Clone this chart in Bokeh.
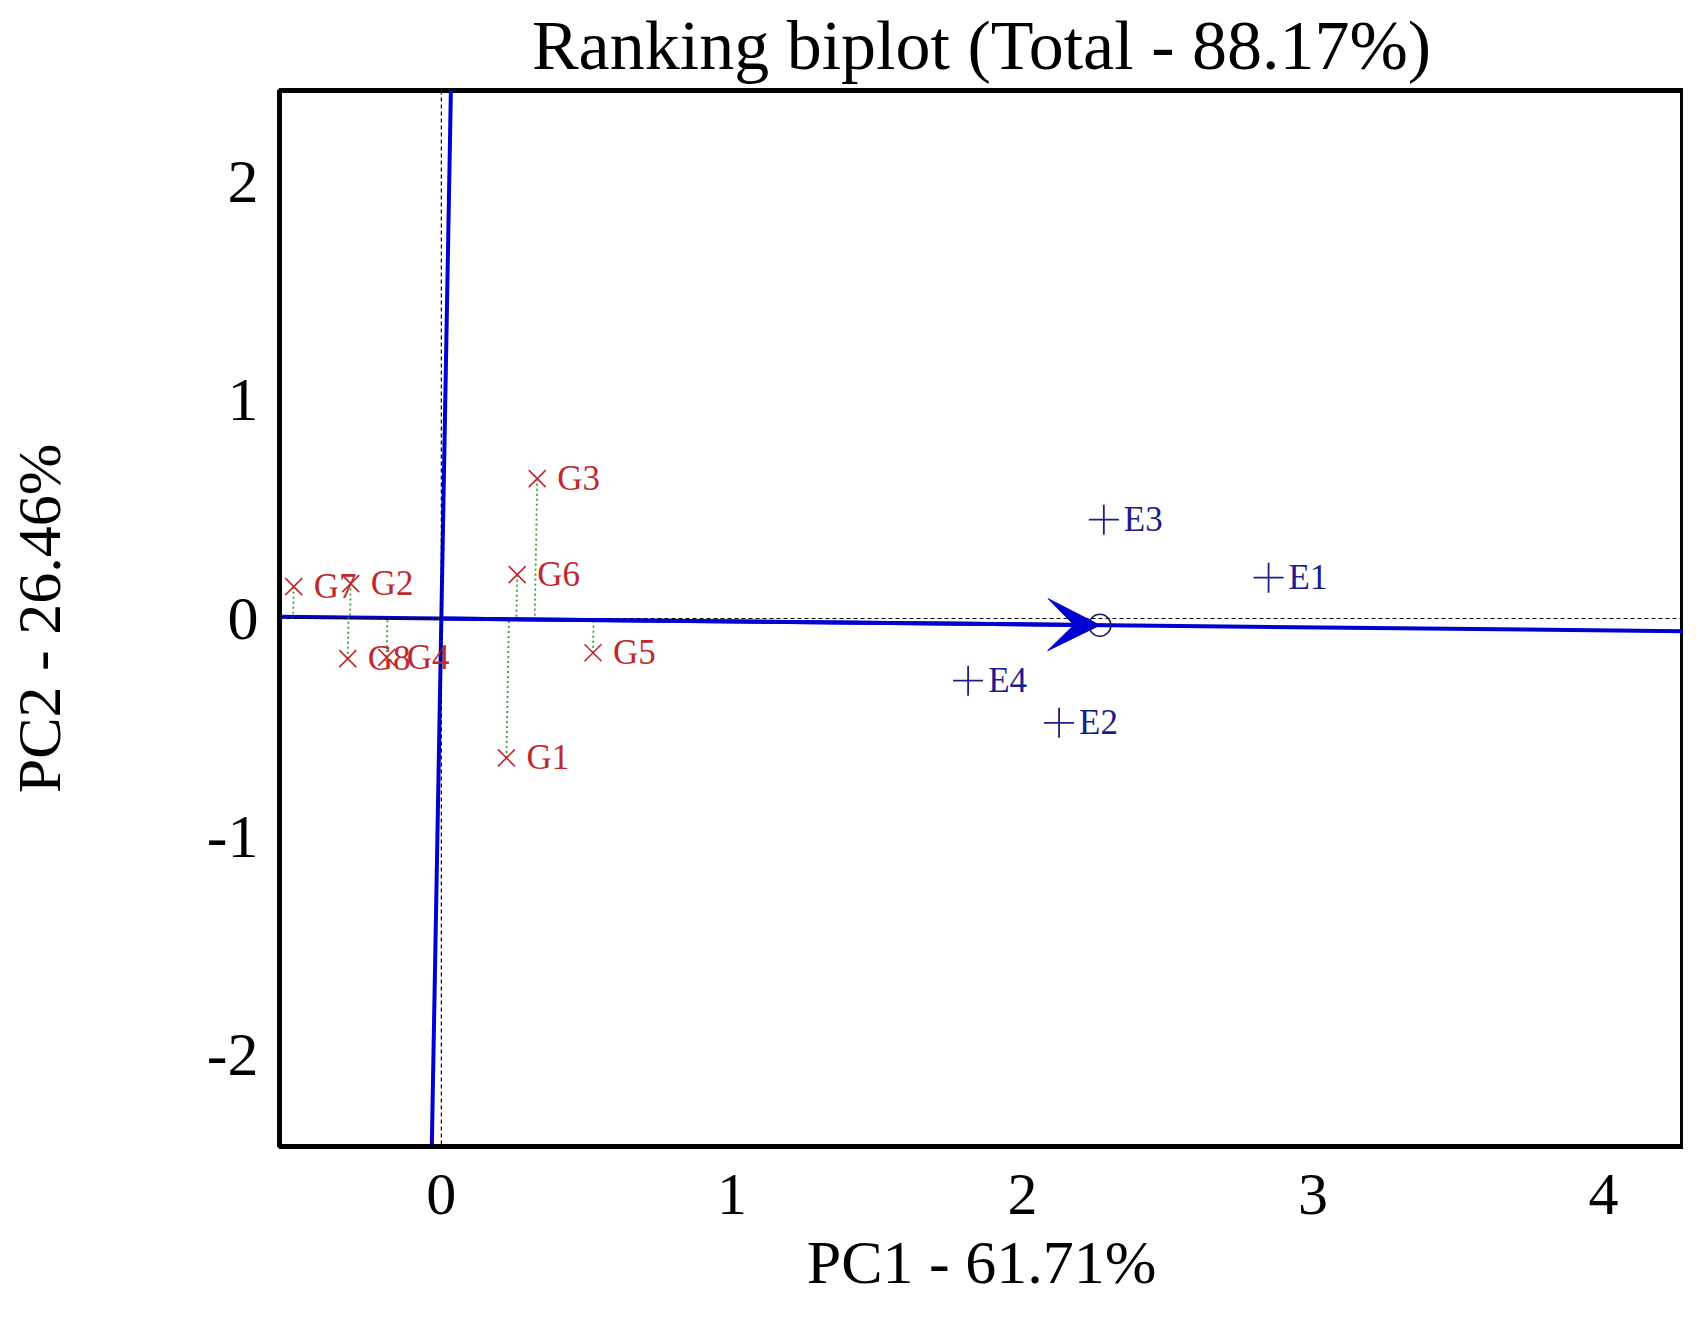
import numpy as np
from bokeh.plotting import figure
from bokeh.models import (ColumnDataSource, Range1d, FixedTicker, Span, Arrow, VeeHead, Title)
from bokeh.core.properties import value
from bokeh.embed import file_html
from bokeh.resources import INLINE

# ---- data ----
genotypes = ["G1", "G2", "G3", "G4", "G5", "G6", "G7", "G8"]
g_pc1 = [0.224, -0.312, 0.330, -0.188, 0.522, 0.261, -0.508, -0.322]
g_pc2 = [-0.639, 0.160, 0.641, -0.178, -0.157, 0.201, 0.146, -0.184]

environments = ["E1", "E2", "E3", "E4"]
e_pc1 = [2.847, 2.126, 2.280, 1.813]
e_pc2 = [0.187, -0.478, 0.453, -0.285]

x_ticks = [0, 1, 2, 3, 4]
y_ticks = [-2, -1, 0, 1, 2]
x_tick_labels = ["0", "1", "2", "3", "4"]
y_tick_labels = ["-2", "-1", "0", "1", "2"]

title_text = "Ranking biplot (Total - 88.17%)"
x_label = "PC1 - 61.71%"
y_label = "PC2 - 26.46%"

x_lim = (-0.557, 4.275)
y_lim = (-2.42, 2.42)

FONT = "Liberation Serif"
BLUE = "#0000d0"
GCOL = "#c0282d"
ECOL = "#1c1c8c"

# ---- derived geometry (average environment axis) ----
xm = float(np.mean(e_pc1))
ym = float(np.mean(e_pc2))
slope = ym / xm
aea_x = [x_lim[0], x_lim[1]]
aea_y = [slope * v for v in aea_x]
ord_y = [y_lim[0], y_lim[1]]
ord_x = [-v * slope for v in ord_y]

u = np.array([xm, ym]) / np.hypot(xm, ym)
gx = np.array(g_pc1)
gy = np.array(g_pc2)
t = gx * u[0] + gy * u[1]
px = t * u[0]
py = t * u[1]
proj_xs = [[a, b] for a, b in zip(gx, px)]
proj_ys = [[a, b] for a, b in zip(gy, py)]

# ---- figure ----
p = figure(width=1683, height=1307, output_backend="svg", toolbar_location=None,
           x_range=Range1d(*x_lim), y_range=Range1d(*y_lim),
           min_border_left=279, min_border_right=0, min_border_top=90, min_border_bottom=161)
p.background_fill_color = "white"
p.border_fill_color = "white"
p.grid.visible = False
p.outline_line_color = "black"
p.outline_line_width = 5

p.title.text = title_text
p.title.align = "center"
p.title.vertical_align = "top"
p.title.text_font = FONT
p.title.text_font_size = "70px"
p.title.text_font_style = "normal"
p.title.text_color = "black"
p.title.standoff = 10

for ax in (p.xaxis[0], p.yaxis[0]):
    ax.axis_line_color = "black"
    ax.axis_line_width = 5
    ax.major_tick_line_color = None
    ax.minor_tick_line_color = None
    ax.major_label_text_font = FONT
    ax.major_label_text_color = "black"
    ax.axis_label_text_font = FONT
    ax.axis_label_text_font_size = "62px"
    ax.axis_label_text_font_style = "normal"
    ax.axis_label_text_color = "black"

p.xaxis.ticker = FixedTicker(ticks=x_ticks)
p.yaxis.ticker = FixedTicker(ticks=y_ticks)
p.xaxis.major_label_overrides = dict(zip(x_ticks, x_tick_labels))
p.yaxis.major_label_overrides = dict(zip(y_ticks, y_tick_labels))
p.xaxis.major_label_text_font_size = "60px"
p.yaxis.major_label_text_font_size = "62px"
p.yaxis.axis_label = y_label
p.xaxis.major_label_standoff = 22
p.yaxis.major_label_standoff = 15
p.yaxis.axis_label_standoff = 131

# x-axis title as a panel below the axis
p.add_layout(Title(text=x_label, align="center", vertical_align="bottom", standoff=19,
                   text_font=FONT, text_font_size="62px", text_font_style="normal",
                   text_color="black"), "below")

# reference dashed lines through origin
p.add_layout(Span(location=0, dimension="width", line_color="black", line_width=1.2, line_dash="4 3"))
p.add_layout(Span(location=0, dimension="height", line_color="black", line_width=1.2, line_dash="4 3"))

# average environment axis and its ordinate
p.line(aea_x, aea_y, line_color=BLUE, line_width=4)
p.line(ord_x, ord_y, line_color=BLUE, line_width=4)

# projection lines
p.multi_line(proj_xs, proj_ys, line_color="#3c9a3c", line_width=1.8, line_dash="2 3")

# arrow to average environment
p.add_layout(Arrow(end=VeeHead(size=52, fill_color=BLUE, line_color=BLUE, line_width=1),
                   x_start=0, y_start=0, x_end=xm, y_end=ym,
                   line_color=BLUE, line_width=4))
p.scatter([xm], [ym], marker="circle", size=22, fill_color=None,
          line_color="#1c1c5c", line_width=1.5)

gsrc = ColumnDataSource(dict(x=g_pc1, y=g_pc2, name=genotypes))
esrc = ColumnDataSource(dict(x=e_pc1, y=e_pc2, name=environments))

p.scatter("x", "y", source=gsrc, marker="x", size=24, line_color=GCOL, line_width=1.6)
p.text("x", "y", text="name", source=gsrc, x_offset=20, text_baseline="middle",
       text_font=value(FONT), text_font_size="35px", text_color=GCOL)

p.scatter("x", "y", source=esrc, marker="cross", size=30, line_color=ECOL, line_width=1.8)
p.text("x", "y", text="name", source=esrc, x_offset=20, text_baseline="middle",
       text_font=value(FONT), text_font_size="35px", text_color=ECOL)

open("out.html", "w").write(file_html(p, INLINE))
